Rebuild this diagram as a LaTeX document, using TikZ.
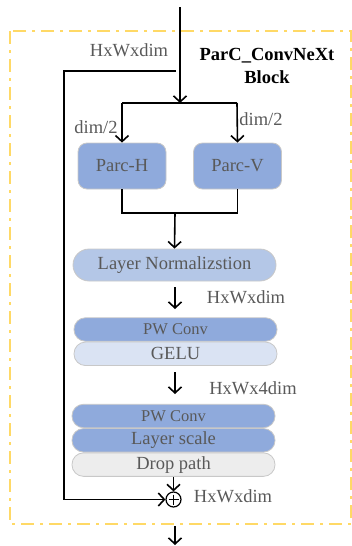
\documentclass[tikz,border=0pt]{standalone}
\usepackage{fontspec}
\setmainfont{Liberation Serif}
\usetikzlibrary{arrows.meta,calc}
\definecolor{blockblue}{HTML}{8FAADC}
\definecolor{normblue}{HTML}{B4C7E7}
\definecolor{gelublue}{HTML}{DAE3F3}
\definecolor{dropgray}{HTML}{EDEDED}
\definecolor{framegold}{HTML}{FFD966}
\definecolor{textgray}{HTML}{595959}
\definecolor{edgegray}{HTML}{C8C8C8}
\tikzset{
  flow/.style={line width=1.6pt, black},
  arr/.style={flow, -{Straight Barb[length=6pt,width=13pt,line width=1.6pt]}},
  lbl/.style={text=textgray, font=\fontsize{18.5}{20}\selectfont, inner sep=0pt},
  parcbox/.style={draw=edgegray, line width=0.8pt, fill=blockblue, rounded corners=9pt,
    minimum width=88pt, minimum height=46pt, text=textgray, font=\fontsize{18.5}{20}\selectfont},
  pill/.style={draw=edgegray, line width=0.8pt, rounded corners=11.5pt,
    minimum width=203pt, minimum height=23.5pt, inner sep=0pt, text=textgray,
    font=\fontsize{18.5}{20}\selectfont},
  frame/.style={framegold, line width=2pt, dash pattern=on 13pt off 6pt on 3pt off 6pt},
}
\begin{document}
\begin{tikzpicture}[x=1pt,y=-1pt]
\useasboundingbox (0,0) rectangle (352,546);
% enclosing block frame
\draw[frame] (10,31) rectangle (351,524);

% title and input label
\node[font=\bfseries\fontsize{18.5}{23}\selectfont, align=center, inner sep=0pt] (title) at (267,65.5) {ParC\_ConvNeXt\\Block};
\node[lbl] (inlbl) at (129,50) {HxWxdim};

% input and split
\coordinate (in) at (180,7);
\coordinate (split) at (180,103);
\coordinate (splitL) at (122,103);
\coordinate (splitR) at (237,103);
\node[parcbox] (parch) at (122,166) {Parc-H};
\node[parcbox] (parcv) at (237.5,166) {Parc-V};
\node[lbl] (dimL) at (96,127) {dim/2};
\node[lbl] (dimR) at (261,119) {dim/2};

\draw[arr] (in) -- (split);
\draw[flow] (splitL) -- (splitR);
\draw[arr] (splitL) -- (parch.north);
\draw[arr] (splitR) -- (parcv.north);

% merge
\coordinate (mergeL) at (122,213);
\coordinate (mergeR) at (237.5,213);
\coordinate (merge) at (175,213);
\draw[flow] (parch.south) -- (mergeL) -- (mergeR) -- (parcv.south);

\node[pill, fill=normblue, minimum height=32pt, rounded corners=16pt] (norm) at (174.5,265) {Layer Normalizstion};
\draw[arr] (merge) -- (norm.north);

% MLP part
\node[pill, fill=blockblue, font=\fontsize{16.5}{18}\selectfont] (pw1) at (175.5,329.5) {PW Conv};
\node[pill, fill=gelublue, anchor=north] (gelu) at (pw1.south) {GELU};
\coordinate (a1s) at (175,287);
\coordinate (a1e) at (175,309);
\draw[arr] (a1s) -- (a1e);
\node[lbl] (l1) at (246,297) {HxWxdim};

\coordinate (a2s) at (175,372);
\coordinate (a2e) at (175,394);
\draw[arr] (a2s) -- (a2e);
\node[lbl] (l2) at (253,388) {HxWx4dim};

\node[pill, fill=blockblue, font=\fontsize{16.5}{18}\selectfont] (pw2) at (173.5,416) {PW Conv};
\node[pill, fill=blockblue, anchor=north] (scale) at (pw2.south) {Layer scale};
\node[pill, fill=dropgray, anchor=north] (drop) at (scale.south) {Drop path};

% residual sum
\node[draw, circle, line width=1.2pt, minimum size=15pt, inner sep=0pt] (sum) at (173.5,499.5) {};
\draw[line width=1.2pt] ($(sum.center)+(-5,0)$) -- ($(sum.center)+(5,0)$)
                        ($(sum.center)+(0,-5)$) -- ($(sum.center)+(0,5)$);
\draw[arr] (drop.south -| sum) -- (sum.north);
\node[lbl] (l3) at (233,496) {HxWxdim};

% skip connection
\coordinate (skip) at (176,71);
\coordinate (skipTL) at (64,71);
\coordinate (skipBL) at (64,499.5);
\draw[arr] (skip) -- (skipTL) -- (skipBL) -- (sum.west);

% output
\coordinate (outtop) at (175,526);
\coordinate (out) at (175,545);
\draw[arr] (outtop) -- (out);
\end{tikzpicture}
\end{document}
